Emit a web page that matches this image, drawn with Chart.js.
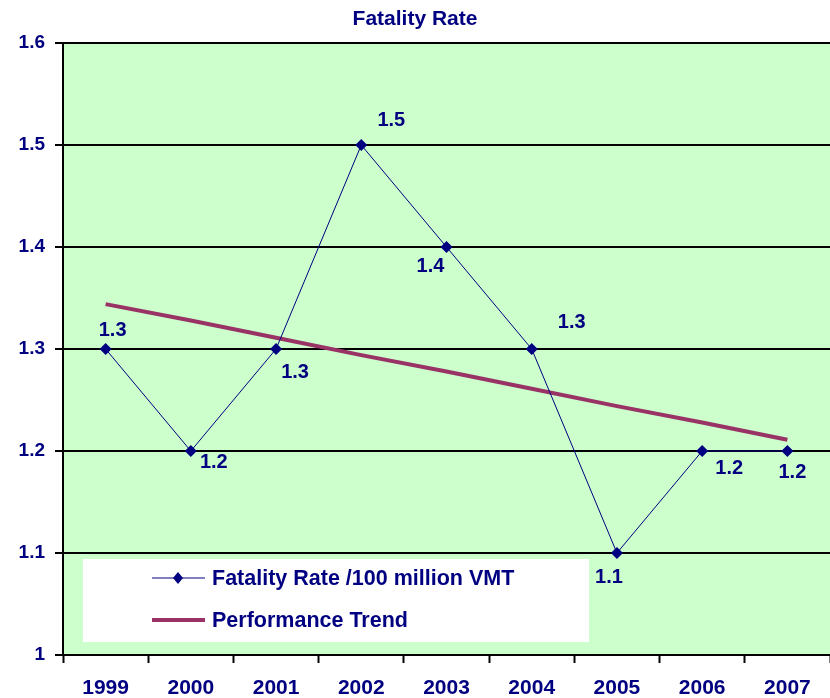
<!DOCTYPE html>
<html>
<head>
<meta charset="utf-8">
<title>Fatality Rate</title>
<script src="https://cdn.jsdelivr.net/npm/chart.js@4"></script>
<style>
    html, body { margin: 0; padding: 0; background: #ffffff; }
    #wrap { width: 830px; height: 698px; }
</style>
</head>
<body>
<div id="wrap"><canvas id="fatalityChart" width="830" height="698"></canvas></div>
<script>
// ===== 数据 =====
const years = ['1999', '2000', '2001', '2002', '2003', '2004', '2005', '2006', '2007'];
const fatalityRate = [1.3, 1.2, 1.3, 1.5, 1.4, 1.3, 1.1, 1.2, 1.2];
const performanceTrend = [1.344, 1.328, 1.311, 1.294, 1.278, 1.261, 1.244, 1.228, 1.211];
const yTicks = [1, 1.1, 1.2, 1.3, 1.4, 1.5, 1.6];

const NAVY = '#000080';
const MAROON = '#993366';
const FONT = '"Liberation Sans", Arial, sans-serif';

// 数据标签的偏移（相对于点）
const labelOffsets = [
    [7, -19], [23, 11], [19, 23], [30, -25], [-16, 19],
    [40, -27], [-8, 24], [27, 17], [5, 21]
];

// 绿色背景
const plotBackground = {
    id: 'plotBackground',
    beforeDraw(chart) {
        const { ctx, chartArea: a } = chart;
        ctx.save();
        ctx.fillStyle = '#ccffcc';
        ctx.fillRect(a.left, a.top, a.right - a.left, a.bottom - a.top);
        ctx.restore();
    }
};

// 数据标签 + 图例
const labelsAndLegend = {
    id: 'labelsAndLegend',
    afterDatasetsDraw(chart) {
        const ctx = chart.ctx;
        const meta = chart.getDatasetMeta(0);
        ctx.save();
        ctx.fillStyle = NAVY;
        ctx.font = 'bold 20px ' + FONT;
        ctx.textAlign = 'center';
        ctx.textBaseline = 'middle';
        meta.data.forEach((pt, i) => {
            const off = labelOffsets[i];
            ctx.fillText(String(fatalityRate[i]), pt.x + off[0], pt.y + off[1]);
        });

        // 图例
        ctx.fillStyle = '#ffffff';
        ctx.fillRect(83, 559, 506, 83);

        ctx.strokeStyle = NAVY;
        ctx.lineWidth = 1;
        ctx.beginPath();
        ctx.moveTo(152, 578);
        ctx.lineTo(205, 578);
        ctx.stroke();
        ctx.fillStyle = NAVY;
        ctx.beginPath();
        ctx.moveTo(178, 572);
        ctx.lineTo(183, 578);
        ctx.lineTo(178, 584);
        ctx.lineTo(173, 578);
        ctx.closePath();
        ctx.fill();

        ctx.strokeStyle = MAROON;
        ctx.lineWidth = 4;
        ctx.beginPath();
        ctx.moveTo(152, 620);
        ctx.lineTo(205, 620);
        ctx.stroke();

        ctx.fillStyle = NAVY;
        ctx.font = 'bold 21.5px ' + FONT;
        ctx.textAlign = 'left';
        ctx.fillText('Fatality Rate /100 million VMT', 212, 579);
        ctx.fillText('Performance Trend', 212, 621);
        ctx.restore();
    }
};

const ctx = document.getElementById('fatalityChart').getContext('2d');

const fatalityChart = new Chart(ctx, {
    type: 'line',
    data: {
        labels: years,
        datasets: [
            {
                label: 'Fatality Rate /100 million VMT',
                data: fatalityRate,
                borderColor: NAVY,
                backgroundColor: NAVY,
                borderWidth: 1,
                pointStyle: 'rectRot',
                pointRadius: 6,
                pointBorderWidth: 0,
                tension: 0,
                fill: false
            },
            {
                label: 'Performance Trend',
                data: performanceTrend,
                borderColor: MAROON,
                borderWidth: 4,
                pointRadius: 0,
                tension: 0,
                fill: false
            }
        ]
    },
    options: {
        responsive: false,
        animation: false,
        layout: { padding: 0, autoPadding: false },
        scales: {
            x: {
                offset: true,
                afterFit(scale) {
                    scale.height = 43;
                    scale.paddingLeft = 0;
                    scale.paddingRight = 0;
                },
                grid: {
                    offset: true,
                    drawOnChartArea: false,
                    drawTicks: true,
                    tickLength: 8,
                    tickWidth: 2,
                    tickColor: '#000000'
                },
                border: { color: '#000000', width: 2 },
                ticks: {
                    color: NAVY,
                    padding: 13,
                    font: { family: FONT, size: 21, weight: 'bold' },
                    maxRotation: 0
                }
            },
            y: {
                min: 1,
                max: 1.6,
                afterFit(scale) { scale.width = 63; },
                afterBuildTicks(scale) {
                    scale.ticks = yTicks.map(v => ({ value: v }));
                },
                grid: {
                    color: '#000000',
                    lineWidth: 2,
                    tickLength: 8,
                    tickColor: '#000000'
                },
                border: { color: '#000000', width: 2 },
                ticks: {
                    color: NAVY,
                    padding: 10,
                    font: { family: FONT, size: 19, weight: 'bold' },
                    callback: v => String(Number(v.toFixed(1)))
                }
            }
        },
        plugins: {
            legend: { display: false },
            tooltip: { enabled: false },
            title: {
                display: true,
                text: 'Fatality Rate',
                color: NAVY,
                font: { family: FONT, size: 21, weight: 'bold', lineHeight: 1.2 },
                padding: { top: 7, bottom: 10.8 }
            }
        }
    },
    plugins: [plotBackground, labelsAndLegend]
});
</script>
</body>
</html>
